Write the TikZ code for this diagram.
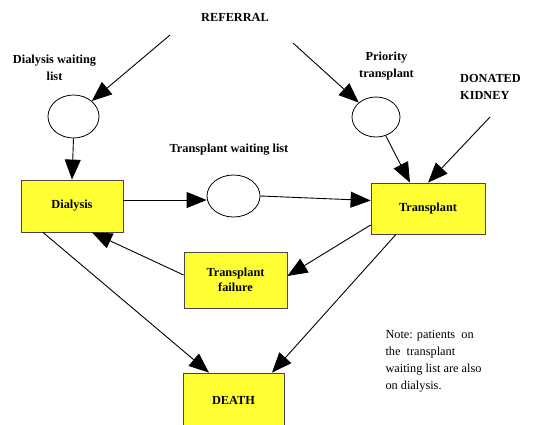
\documentclass[tikz,border=0pt]{standalone}
\usepackage{fontspec}
\setmainfont{Liberation Serif}
\usepackage{xcolor}
\usepackage{tikz}
\usetikzlibrary{positioning,shapes.geometric,arrows.meta}

\definecolor{boxyellow}{RGB}{255,255,51}
\definecolor{boxedge}{RGB}{70,70,70}

\begin{document}
\begin{tikzpicture}[x=1pt,y=-1pt,
  state/.style={draw=boxedge, line width=0.8pt, fill=boxyellow, inner sep=0pt,
    font=\fontsize{12.3}{15}\selectfont\bfseries, align=center},
  place/.style={draw, ellipse, line width=0.8pt, inner sep=0pt},
  lbl/.style={font=\fontsize{12.3}{17}\selectfont\bfseries, align=center},
  flow/.style={line width=0.9pt, -{Triangle[length=20pt,width=16pt]}}]
\useasboundingbox (0,0) rectangle (553,424);
% labels
\node[lbl] (ref) at (235,17) {REFERRAL};
\node[lbl] (dwllbl) at (54.5,67.5) {Dialysis waiting\\list};
\node[lbl] (twllbl) at (229,150) {Transplant waiting list};
\node[lbl] (prilbl) at (386.5,66.5) {Priority\\transplant};
\node[lbl, align=left] (dk) at (490.5,87) {DONATED\\KIDNEY};
\node[font=\fontsize{12.3}{17}\selectfont, align=left, anchor=west] (note) at (382,361)
  {Note: patients\ \ on\\the\ \ transplant\\waiting list are also\\on dialysis.};
% places
\node[place, minimum width=51pt, minimum height=43pt] (dwl) at (73.5,116.5) {};
\node[place, minimum width=53pt, minimum height=42pt] (twl) at (233.5,196) {};
\node[place, minimum width=48pt, minimum height=40pt] (pri) at (376,117) {};
% states
\node[state, minimum width=102pt, minimum height=52pt] (dia) at (72,206) {Dialysis};
\node[state, minimum width=114pt, minimum height=51pt] (tra) at (428,208.5) {Transplant};
\node[state, minimum width=103pt, minimum height=56pt] (fail) at (235.5,280) {Transplant\\failure};
\node[state, minimum width=101pt, minimum height=54pt] (death) at (233.5,400) {DEATH};
% free ends
\coordinate (refl) at (170,35);
\coordinate (refr) at (293,43);
\coordinate (dkend) at (490,117);
% connectors
\draw[flow] (refl) -- (dwl.north east);
\draw[flow] (refr) -- (pri.north west);
\draw[flow] (dwl.south) -- (dia.north);
\draw[flow] ([yshift=6pt]dia.east) -- ([yshift=-4pt]twl.west);
\draw[flow] (twl.east) -- ([yshift=8pt]tra.west);
\draw[flow] (pri) -- ([xshift=-18pt]tra.north);
\draw[flow] (dkend) -- (tra.north);
\draw[flow] ([yshift=-16.5pt]tra.west) -- ([yshift=4pt]fail.east);
\draw[flow] ([yshift=5pt]fail.west) -- ([xshift=20pt]dia.south);
\draw[flow] ([xshift=-29pt]dia.south) -- ([xshift=-24.5pt]death.north);
\draw[flow] ([xshift=-32pt]tra.south) -- ([xshift=38.5pt]death.north);
\end{tikzpicture}
\end{document}
